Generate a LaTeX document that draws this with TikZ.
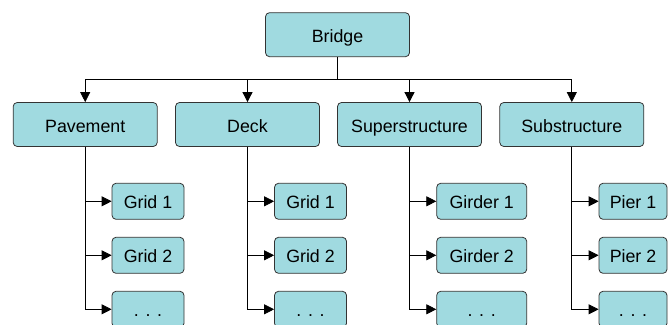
\documentclass[tikz,border=0pt]{standalone}
\usepackage{fontspec}
\setmainfont{Liberation Sans}
\usetikzlibrary{arrows.meta}
\definecolor{boxfill}{RGB}{160,218,224}
\begin{document}
\begin{tikzpicture}[x=1pt,y=-1pt,
  box/.style={draw=black!80,fill=boxfill,rounded corners=4pt,line width=0.8pt,
    minimum width=144pt,minimum height=44pt,inner sep=0pt,
    text height=15pt,text depth=0pt,
    font=\fontsize{17.8}{20}\selectfont},
  part/.style={box,minimum height=36pt},
  arr/.style={-{Triangle[length=10pt,width=10pt]},line width=0.8pt}]
\clip (0,0) rectangle (668,324);
\node[box] (bridge) at (337.5,34.7) {Bridge};
\node[box] (pave) at (85.2,124.5) {Pavement};
\node[box] (deck) at (247.5,124.5) {Deck};
\node[box] (super) at (409.5,124.5) {Superstructure};
\node[box] (sub) at (571.8,124.5) {Substructure};
\coordinate (bus) at (337.5,79.5);
\draw[line width=0.8pt] (bridge.south) -- (bus);
\foreach \p in {pave,deck,super,sub}
  \draw[arr] (bus) -| (\p.north);
% parts under each main component
\foreach \p/\x/\w/\t in {pave/148/72/Grid,deck/310.5/72/Grid,super/481.7/90/Girder,sub/633/68/Pier} {
  \node[part,minimum width=\w pt] (\p1) at (\x,201.3) {\t\ 1};
  \node[part,minimum width=\w pt] (\p2) at (\x,255.3) {\t\ 2};
  \node[part,minimum width=\w pt] (\p3) at (\x,309.3) {. . .};
  \foreach \k in {1,2,3}
    \draw[arr] (\p.south) |- (\p\k.west);
}
\end{tikzpicture}
\end{document}
